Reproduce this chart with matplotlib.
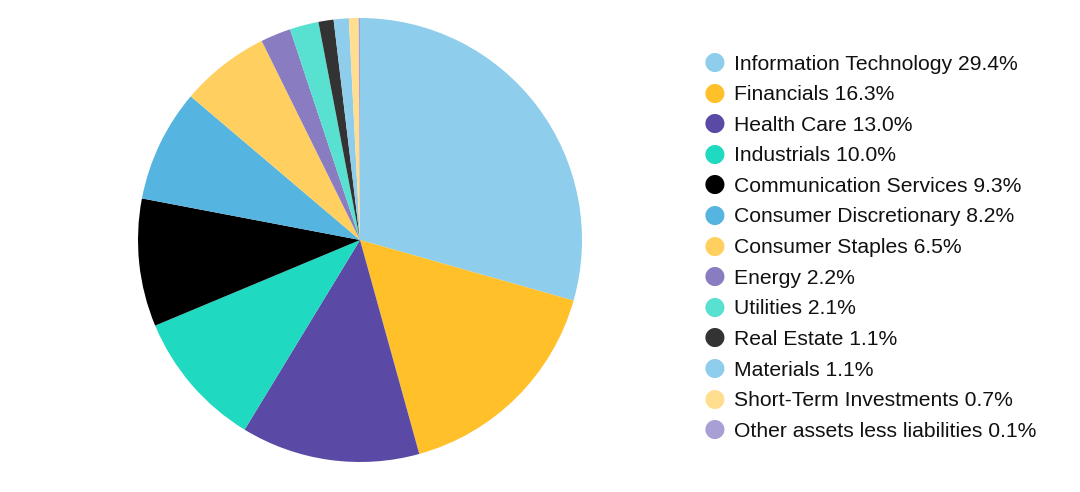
import matplotlib
matplotlib.use("Agg")
import matplotlib.pyplot as plt

plt.rcParams['font.family'] = ['Liberation Sans', 'DejaVu Sans']

sectors = ["Information Technology", "Financials", "Health Care", "Industrials",
           "Communication Services", "Consumer Discretionary", "Consumer Staples",
           "Energy", "Utilities", "Real Estate", "Materials",
           "Short-Term Investments", "Other assets less liabilities"]
weights = [29.4, 16.3, 13.0, 10.0, 9.3, 8.2, 6.5, 2.2, 2.1, 1.1, 1.1, 0.7, 0.1]
colors = ["#8ecdec", "#ffc02a", "#5a4aa6", "#1fd9c0", "#000000", "#55b4e0",
          "#ffd060", "#8a7cc0", "#58e0d0", "#333333", "#8ecdec", "#ffdf8f", "#a89fd4"]

W, H = 1080, 492
fig = plt.figure(figsize=(W / 100, H / 100), dpi=100)

# pie axes: centre (360, 240) px from top, radius 222 px
cx, cy, r = 360, 240, 222
ax = fig.add_axes([(cx - r) / W, (H - cy - r) / H, 2 * r / W, 2 * r / H])
ax.pie(weights, colors=colors, startangle=90, counterclock=False,
       wedgeprops=dict(linewidth=0))
ax.set_xlim(-1, 1)
ax.set_ylim(-1, 1)
ax.set_aspect('equal')
ax.axis('off')

# legend drawn by hand
y0, dy = 62, 30.6
for i, (name, w, c) in enumerate(zip(sectors, weights, colors)):
    y = 1 - (y0 + i * dy) / H
    fig.text(715 / W, y, "\u25CF", color=c, fontsize=18, ha='center', va='center',
             family='DejaVu Sans')
    fig.text(734 / W, y, f"{name} {w:.1f}%", fontsize=15.2, ha='left',
             va='center_baseline', color='#111111')

fig.savefig("out.png", dpi=100)
